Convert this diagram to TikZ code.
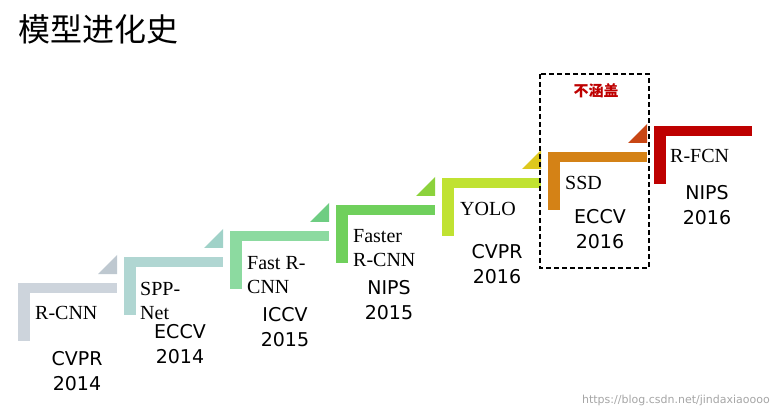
\documentclass[tikz,border=0pt]{standalone}
\usepackage{fontspec}
\setmainfont{Liberation Serif}
\newfontfamily\vsans{DejaVu Sans}
\newfontfamily\cjk{Noto Sans CJK SC}
\begin{document}
\begin{tikzpicture}[x=1pt,y=-1pt,
  nm/.style={font=\fontsize{20}{24}\selectfont, anchor=west, inner sep=0pt, align=left},
  vn/.style={font=\vsans\fontsize{19}{25}\selectfont, inner sep=0pt, align=center}]
\useasboundingbox[fill=white] (0,0) rectangle (780,417);
\definecolor{c1}{RGB}{205,212,220}\definecolor{t1}{RGB}{190,200,208}
\definecolor{c2}{RGB}{176,214,210}\definecolor{t2}{RGB}{160,210,200}
\definecolor{c3}{RGB}{140,218,160}\definecolor{t3}{RGB}{110,205,130}
\definecolor{c4}{RGB}{112,208,92}\definecolor{t4}{RGB}{140,210,60}
\definecolor{c5}{RGB}{192,226,50}\definecolor{t5}{RGB}{222,200,30}
\definecolor{c6}{RGB}{212,130,22}\definecolor{t6}{RGB}{200,70,20}
\definecolor{c7}{RGB}{190,0,0}
\foreach \i/\x/\y/\c/\t in {1/18/283/c1/t1,2/124/257/c2/t2,3/230/231/c3/t3,4/336/205/c4/t4,5/442/178/c5/t5,6/548/152/c6/t6}{
  \fill[\c] (\x,\y) rectangle ++(99,10);
  \fill[\c] (\x,\y) rectangle ++(12,58);
  \fill[\t] (\x+99,\y-9) -- (\x+99,\y-28) -- (\x+80,\y-9) -- cycle;
}
\fill[c7] (654,126) rectangle (752,136);
\fill[c7] (654,126) rectangle (666,184);
\node[anchor=west,inner sep=0pt,font=\cjk\fontsize{32}{32}\selectfont] (title) at (18,29) {模型进化史};
\draw[dash pattern=on 5pt off 3pt,line width=1.5pt] (540,74) rectangle (649,268);
\node[text=c7,font=\cjk\bfseries\fontsize{15}{15}\selectfont] (nc) at (596,91) {不涵盖};
\node[nm] (n1) at (35,313) {R-CNN};
\node[nm] (n2) at (140,301) {SPP-\\Net};
\node[nm] (n3) at (247,275) {Fast R-\\CNN};
\node[nm] (n4) at (353,248) {Faster\\R-CNN};
\node[nm] (n5) at (460,209) {YOLO};
\node[nm] (n6) at (565,183) {SSD};
\node[nm] (n7) at (670,156) {R-FCN};
\node[vn] (v1) at (77,371) {CVPR\\2014};
\node[vn] (v2) at (180,344) {ECCV\\2014};
\node[vn] (v3) at (285,327) {ICCV\\2015};
\node[vn] (v4) at (389,300) {NIPS\\2015};
\node[vn] (v5) at (497,264) {CVPR\\2016};
\node[vn] (v6) at (600,229) {ECCV\\2016};
\node[vn] (v7) at (707,205) {NIPS\\2016};
\node[anchor=east,text=black!35,font=\vsans\fontsize{11}{11}\selectfont,inner sep=0pt] (wm) at (770,400) {https://blog.csdn.net/jindaxiaoooo};
\end{tikzpicture}
\end{document}
